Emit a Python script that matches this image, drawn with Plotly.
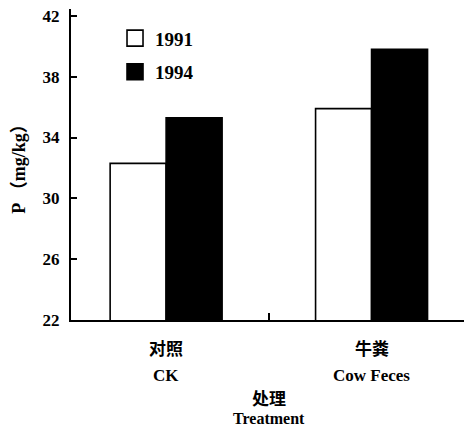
import plotly.graph_objects as go

# Soil P content by treatment and year
categories_cn = ["对照", "牛粪"]
categories_en = ["CK", "Cow Feces"]
years = ["1991", "1994"]
p_1991 = [32.3, 35.9]
p_1994 = [35.3, 39.8]
y_ticks = [22, 26, 30, 34, 38, 42]

SERIF = "Liberation Serif, Noto Sans CJK SC"
CJK = "Noto Sans CJK SC"
x_pos = list(range(len(categories_cn)))
fills = ["white", "black"]

fig = go.Figure()
for year, vals, fill in zip(years, [p_1991, p_1994], fills):
    fig.add_trace(go.Bar(
        x=x_pos, y=vals, name=year, showlegend=False,
        marker=dict(color=fill, line=dict(color="black", width=1.6)),
    ))
    # larger square key for the legend
    fig.add_trace(go.Scatter(
        x=[None], y=[None], mode="markers", name=year, legendgroup=year,
        marker=dict(symbol="square", size=16, color=fill,
                    line=dict(color="black", width=1.6)),
    ))

# Two-line category labels under each bar group
for xi, cn, en in zip(x_pos, categories_cn, categories_en):
    fig.add_annotation(x=xi, y=-0.09, xref="x", yref="paper", text=cn,
                       showarrow=False, yanchor="middle",
                       font=dict(family=CJK, size=17, color="black", weight="bold"))
    fig.add_annotation(x=xi, y=-0.18, xref="x", yref="paper", text=en,
                       showarrow=False, yanchor="middle",
                       font=dict(family=SERIF, size=17, color="black", weight="bold"))

# Axis title for the treatments
fig.add_annotation(x=0.5, y=-0.248, xref="x", yref="paper", text="处理",
                   showarrow=False, yanchor="middle",
                   font=dict(family=CJK, size=17, color="black", weight="bold"))
fig.add_annotation(x=0.5, y=-0.316, xref="x", yref="paper", text="Treatment",
                   showarrow=False, yanchor="middle",
                   font=dict(family=SERIF, size=16, color="black", weight="bold"))

fig.update_layout(
    width=468, height=431,
    margin=dict(l=71, r=4, t=9, b=111),
    plot_bgcolor="white", paper_bgcolor="white",
    barmode="group", bargap=0.455, bargroupgap=0,
    font=dict(family=SERIF, size=15, color="black"),
    legend=dict(
        x=0.112, y=0.967, xanchor="left", yanchor="top",
        bgcolor="rgba(0,0,0,0)", tracegroupgap=6, itemwidth=30,
        font=dict(family=SERIF, size=19, color="black", weight="bold"),
        traceorder="grouped",
    ),
    xaxis=dict(
        range=[-0.463, 1.45], showline=True, linecolor="black", linewidth=2,
        tickvals=[0.5], ticktext=[""], ticks="inside", ticklen=7, tickwidth=2,
        tickcolor="black", showgrid=False, zeroline=False,
    ),
    yaxis=dict(
        range=[22, 42.45], showline=True, linecolor="black", linewidth=2,
        tickvals=y_ticks, ticks="inside", ticklen=6, tickwidth=2,
        tickcolor="black", showgrid=False, zeroline=False,
        ticklabelstandoff=6,
        tickfont=dict(family=SERIF, size=17, color="black", weight="bold"),
        title=dict(text="P （mg/kg）", standoff=12,
                   font=dict(family=SERIF, size=18, color="black", weight="bold")),
    ),
)

fig.write_html("out.html")
